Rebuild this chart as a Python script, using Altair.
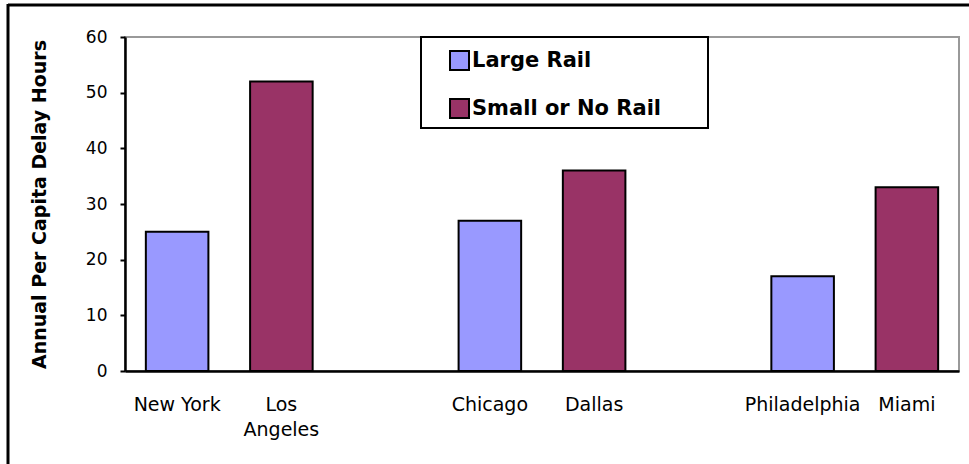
import altair as alt
import pandas as pd

# ---- data ----
slots = ["New York", "Los Angeles", " ", "Chicago", "Dallas", "  ", "Philadelphia", "Miami"]
cities = ["New York", "Los Angeles", "Chicago", "Dallas", "Philadelphia", "Miami"]
delay_hours = [25, 52, 27, 36, 17, 33]
rail_group = ["Large Rail", "Small or No Rail", "Large Rail", "Small or No Rail",
              "Large Rail", "Small or No Rail"]
series = ["Large Rail", "Small or No Rail"]
series_colors = ["#9999FF", "#993366"]
y_ticks = [0, 10, 20, 30, 40, 50, 60]

df = pd.DataFrame({"city": cities, "delay": delay_hours, "group": rail_group})
one = pd.DataFrame({"k": [0]})

bars = alt.Chart(df).mark_bar(stroke="black", strokeWidth=2).encode(
    x=alt.X("city:N",
            scale=alt.Scale(domain=slots, paddingInner=0.4, paddingOuter=0.2),
            axis=alt.Axis(title=None, labelAngle=0, ticks=False, tickSize=0,
                          labelPadding=24, labelFont="DejaVu Sans", labelFontSize=19,
                          labelColor="black", labelLineHeight=25,
                          labelExpr="datum.value == 'Los Angeles' ? ['Los', 'Angeles'] : datum.value",
                          domainColor="black", domainWidth=2.5)),
    y=alt.Y("delay:Q",
            scale=alt.Scale(domain=[0, 60], nice=False),
            axis=alt.Axis(values=y_ticks, title="Annual Per Capita Delay Hours", grid=False,
                          labelFont="DejaVu Sans", labelFontSize=17, labelColor="black",
                          labelPadding=13, tickSize=5, tickWidth=2, tickColor="black",
                          domainColor="black", domainWidth=2.5,
                          titleFont="DejaVu Sans", titleFontWeight="bold", titleFontSize=19,
                          titleColor="black", titleX=-86, titleY=167, titleAngle=270,
                          titleAlign="center", titleBaseline="middle")),
    color=alt.Color("group:N",
                    scale=alt.Scale(domain=series, range=series_colors),
                    legend=alt.Legend(orient="none", legendX=324, legendY=13, title=None,
                                      symbolType="square", symbolSize=361,
                                      symbolStrokeColor="black", symbolStrokeWidth=2,
                                      symbolOpacity=1, labelFont="DejaVu Sans",
                                      labelFontWeight="bold", labelFontSize=21,
                                      labelColor="black", labelOffset=2, rowPadding=21,
                                      padding=0, labelLimit=400)),
)

legend_box = alt.Chart(one).mark_rect(fill="white", stroke="black", strokeWidth=2).encode(
    x=alt.value(296), x2=alt.value(583), y=alt.value(0), y2=alt.value(91)
)

frame_top = alt.Chart(one).mark_rule(color="black", strokeWidth=3).encode(
    x=alt.value(-117), x2=alt.value(860), y=alt.value(-32)
)
frame_left = alt.Chart(one).mark_rule(color="black", strokeWidth=3).encode(
    x=alt.value(-117), y=alt.value(-33), y2=alt.value(440)
)

chart = alt.layer(legend_box, bars, frame_top, frame_left).properties(
    width=834, height=334,
    autosize=alt.AutoSizeParams(type="none"),
    padding={"left": 125, "top": 37, "right": 10, "bottom": 93},
    background="white",
).configure_view(stroke="#999999", strokeWidth=2)

chart.save("out.html", embed_options={"renderer": "svg", "actions": False})
